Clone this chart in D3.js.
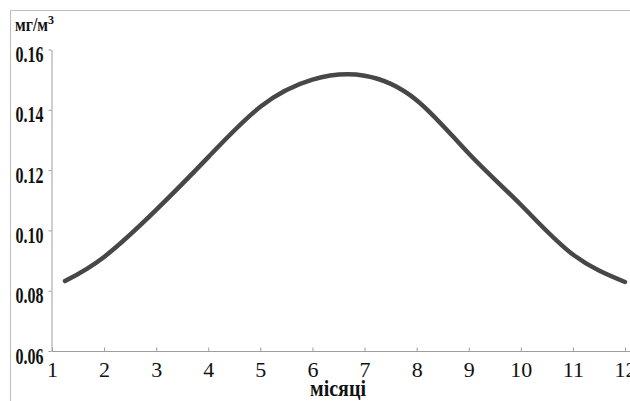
<!DOCTYPE html>
<html>
<head>
<meta charset="utf-8">
<script src="https://cdn.jsdelivr.net/npm/d3@7"></script>
<style>
  body { margin: 0; background: #fff; }
  svg { display: block; }
</style>
</head>
<body>
<div id="chart"></div>
<script>
var width = 630;
var height = 401;

// місяці / концентрація, мг/м3
var months = [1.25, 2, 3, 4, 5, 6, 7, 8, 9, 10, 11, 12];
var values = [0.0832, 0.0912, 0.1068, 0.1243, 0.1410, 0.1500, 0.1513, 0.1432, 0.1255, 0.1085, 0.0920, 0.0829];
var yTicks = [0.06, 0.08, 0.10, 0.12, 0.14, 0.16];
var xTicks = [1, 2, 3, 4, 5, 6, 7, 8, 9, 10, 11, 12];

var x = d3.scaleLinear().domain([1, 12]).range([52, 625]);
var y = d3.scaleLinear().domain([0.06, 0.16]).range([351, 49.5]);

var svg = d3.select("#chart")
  .append("svg")
  .attr("width", width)
  .attr("height", height);

// рамка
svg.append("path")
  .attr("d", "M10.5," + height + "V10.5H" + width)
  .attr("fill", "none")
  .attr("stroke", "#bdbdbd")
  .attr("stroke-width", 1);

// вісь Y
var yAxis = svg.append("g")
  .attr("transform", "translate(51.5,0)")
  .call(d3.axisLeft(y).tickValues(yTicks).tickFormat(d3.format(".2f")).tickSizeInner(3).tickSizeOuter(0));

yAxis.select(".domain").attr("stroke", "#9e9e9e");
yAxis.selectAll(".tick line").attr("stroke", "#9e9e9e");
yAxis.selectAll("text")
  .attr("x", -8)
  .attr("dy", 0)
  .attr("y", 12)
  .attr("fill", "#111")
  .attr("font-family", "'Liberation Serif', 'DejaVu Serif', serif")
  .attr("font-weight", "bold")
  .attr("font-size", 23)
  .attr("textLength", 28)
  .attr("lengthAdjust", "spacingAndGlyphs");

// вісь X
var xAxis = svg.append("g")
  .attr("transform", "translate(0,351.5)")
  .call(d3.axisBottom(x).tickValues(xTicks).tickFormat(d3.format("d")).tickSizeInner(-4).tickSizeOuter(0));

xAxis.select(".domain").remove();
xAxis.append("line")
  .attr("x1", x(1))
  .attr("x2", width)
  .attr("stroke", "#9e9e9e");
xAxis.selectAll(".tick line").attr("stroke", "#9e9e9e");
xAxis.selectAll("text")
  .attr("y", 25.5)
  .attr("dy", 0)
  .attr("fill", "#111")
  .attr("font-family", "'Liberation Serif', 'DejaVu Serif', serif")
  .attr("font-size", 22);

// крива
var line = d3.line()
  .x(function (d, i) { return x(months[i]); })
  .y(function (d) { return y(d); })
  .curve(d3.curveNatural);

svg.append("path")
  .datum(values)
  .attr("d", line)
  .attr("fill", "none")
  .attr("stroke", "#474747")
  .attr("stroke-width", 4.5)
  .attr("stroke-linecap", "round");

// підписи осей
var unit = svg.append("text")
  .attr("x", 15)
  .attr("y", 31)
  .attr("fill", "#111")
  .attr("font-family", "'Liberation Serif', 'DejaVu Serif', serif")
  .attr("font-weight", "bold")
  .attr("font-size", 18);
unit.append("tspan")
  .attr("textLength", 33)
  .attr("lengthAdjust", "spacingAndGlyphs")
  .text("мг/м");
unit.append("tspan")
  .attr("dy", -7)
  .attr("font-size", 12)
  .text("3");

svg.append("text")
  .attr("x", 338)
  .attr("y", 396)
  .attr("text-anchor", "middle")
  .attr("fill", "#111")
  .attr("font-family", "'Liberation Serif', 'DejaVu Serif', serif")
  .attr("font-weight", "bold")
  .attr("font-size", 23)
  .attr("textLength", 56)
  .attr("lengthAdjust", "spacingAndGlyphs")
  .text("місяці");
</script>
</body>
</html>
